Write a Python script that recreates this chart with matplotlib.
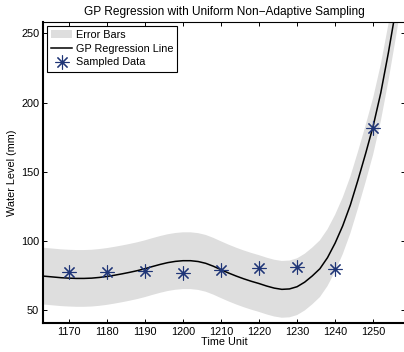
import numpy as np
import matplotlib.pyplot as plt

plt.rcParams['font.family'] = ['Liberation Sans', 'DejaVu Sans']

# sampled water levels
sample_t = [1170, 1180, 1190, 1200, 1210, 1220, 1230, 1240, 1250]
sample_y = [77.5, 77.5, 78.0, 77.0, 79.3, 80.8, 81.1, 79.9, 182.0]

# GP posterior mean over the time axis
gp_t = [1162, 1164, 1166, 1168, 1170, 1172, 1174, 1176, 1178, 1180,
        1182, 1184, 1186, 1188, 1190, 1192, 1194, 1196, 1198, 1200,
        1202, 1204, 1206, 1208, 1210, 1212, 1214, 1216, 1218, 1220,
        1222, 1224, 1226, 1228, 1230, 1232, 1234, 1236, 1238, 1240,
        1242, 1244, 1246, 1248, 1250, 1252, 1254, 1256, 1258]
gp_mean = [75.0, 74.5, 74.0, 73.5, 73.2, 73.0, 73.0, 73.2, 73.7, 74.4,
           75.3, 76.3, 77.4, 78.6, 80.0, 81.6, 83.1, 84.4, 85.3, 85.8,
           85.8, 85.2, 83.9, 81.8, 79.3, 76.9, 74.7, 72.7, 70.9, 69.3,
           67.5, 66.0, 65.1, 65.4, 67.0, 70.3, 74.8, 80.0, 88.0, 98.5,
           111.0, 126.0, 144.0, 163.0, 183.0, 207.0, 236.0, 268.0, 302.0]
# half width of the error band
gp_err = 20.5

t = np.array(gp_t)
m = np.array(gp_mean)

fs = 7.8

fig = plt.figure(figsize=(4.04, 3.52), dpi=100)
ax = fig.add_axes([0.1072, 0.0832, 0.8965, 0.8534])

ax.fill_between(t, m - gp_err, m + gp_err, color='#dedede', linewidth=0,
                label='Error Bars')
ax.plot(t, m, color='black', lw=1.1, label='GP Regression Line')
ax.plot(sample_t, sample_y, linestyle='none', marker=(8, 2, 0), ms=10,
        mec='#1f3577', mew=0.8, color='#1f3577', label='Sampled Data')

ax.set_xlim(1163.3, 1258.5)
ax.set_ylim(41, 258)
ax.set_xticks(range(1170, 1251, 10))
ax.set_yticks([50, 100, 150, 200, 250])

ax.tick_params(direction='in', top=True, right=True, length=3, width=0.7,
               labelsize=fs, pad=3)
for side in ['left', 'bottom']:
    ax.spines[side].set_linewidth(1.5)
for side in ['top', 'right']:
    ax.spines[side].set_linewidth(0.8)

ax.set_title('GP Regression with Uniform Non\u2212Adaptive Sampling',
             fontsize=8.6, pad=5.5)
ax.set_xlabel('Time Unit', fontsize=fs, labelpad=0)
ax.set_ylabel('Water Level (mm)', fontsize=fs, labelpad=3)

leg = ax.legend(loc='upper left', fontsize=fs, numpoints=1, fancybox=False,
                framealpha=1, edgecolor='black', borderaxespad=0.3,
                handlelength=2.0, handletextpad=0.3, labelspacing=0.36,
                borderpad=0.38)
leg.get_frame().set_linewidth(0.8)

fig.savefig('out.png', dpi=100)
